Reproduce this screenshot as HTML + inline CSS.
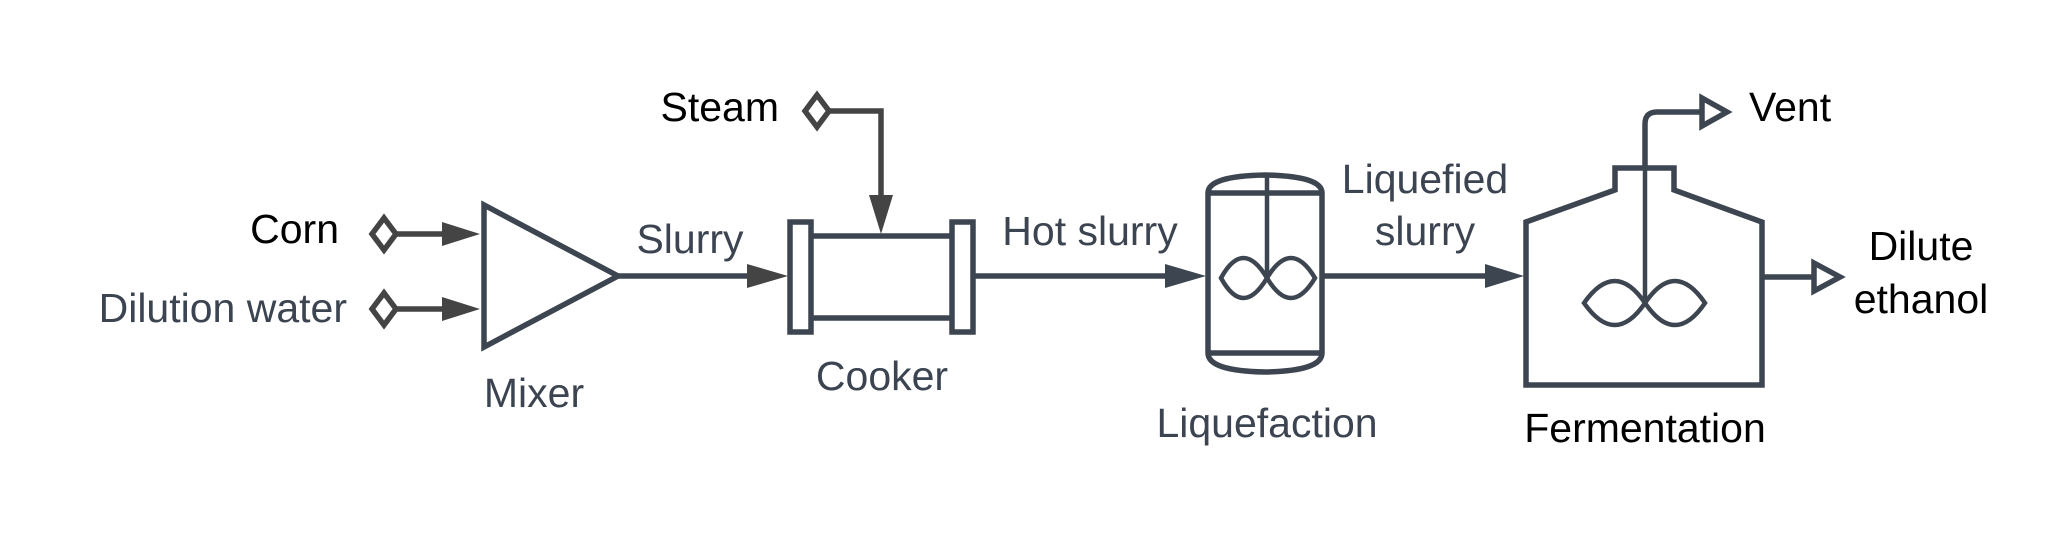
<!DOCTYPE html>
<html><head><meta charset="utf-8"><style>
html,body{margin:0;padding:0;background:#fff;}
svg{display:block;}
text{font-family:"Liberation Sans",Arial,sans-serif;font-size:41px;}
.g{fill:#3b4450;}
.k{fill:#000;}
</style></head><body>
<svg width="2070" height="546" viewBox="0 0 2070 546" xmlns="http://www.w3.org/2000/svg">
<g fill="none" stroke="#3d4550" stroke-width="5.5">
<!-- Corn stream -->
<path d="M372 234 L384 218 L396 234 L384 250 Z" stroke="#444"/>
<line x1="396" y1="234" x2="445" y2="234" stroke="#444"/>
<!-- Dilution -->
<path d="M372 309 L384 293 L396 309 L384 325 Z" stroke="#444"/>
<line x1="396" y1="309" x2="445" y2="309" stroke="#444"/>
<!-- Mixer -->
<path d="M484 205 L484 347 L618 276 Z"/>
<line x1="618" y1="276" x2="750" y2="276"/>
<!-- Cooker -->
<rect x="790" y="222" width="21" height="110"/>
<rect x="952" y="222" width="21" height="110"/>
<line x1="811" y1="236" x2="952" y2="236"/>
<line x1="811" y1="318" x2="952" y2="318"/>
<!-- Steam -->
<path d="M805 111 L817 95 L829 111 L817 127 Z" stroke="#444"/>
<path d="M829 111 L881 111 L881 200" stroke="#444"/>
<!-- Hot slurry -->
<line x1="973" y1="276" x2="1170" y2="276"/>
<!-- Liquefaction vessel -->
<path d="M1208 193 Q1208 176 1265 175 Q1322 176 1322 193 L1322 353 Q1322 371 1265 372 Q1208 371 1208 353 Z"/>
<line x1="1208" y1="193" x2="1322" y2="193"/>
<line x1="1208" y1="353" x2="1322" y2="353"/>
<line x1="1267" y1="175" x2="1267" y2="278" stroke-width="4.5"/>
<path d="M1267 278 Q1243 238 1221 278 Q1243 318 1267 278 Q1291 238 1315 278 Q1291 318 1267 278 Z" stroke-width="4.5"/>
<!-- Liquefied slurry -->
<line x1="1324" y1="276" x2="1490" y2="276"/>
<!-- Fermentation -->
<path d="M1526 222 L1615 190 L1615 168 L1674 168 L1674 190 L1762 222 L1762 385 L1526 385 Z"/>
<line x1="1645" y1="127" x2="1645" y2="303" stroke-width="4.5"/>
<path d="M1645 303 Q1615 259 1584 303 Q1615 347 1645 303 Q1675 259 1705 303 Q1675 347 1645 303 Z" stroke-width="4.5"/>
<path d="M1645 168 L1645 124 Q1645 112 1657 112 L1702 112"/>
<path d="M1702 98 L1727 112 L1702 126 Z"/>
<line x1="1764" y1="277" x2="1814" y2="277"/>
<path d="M1814 263 L1840 277 L1814 291 Z"/>
</g>
<g fill="#444">
<path d="M442 222 L480 234 L442 246 Z"/>
<path d="M442 297 L480 309 L442 321 Z"/>
<path d="M747 264 L788 276 L747 288 Z"/>
<path d="M869 195 L881 234 L893 195 Z"/>
<path d="M1165 264 L1206 276 L1165 288 Z" fill="#3d4550"/>
<path d="M1485 264 L1524 276 L1485 288 Z" fill="#3d4550"/>
</g>
<text class="k" x="339" y="243" text-anchor="end">Corn</text>
<text class="g" x="347" y="322" text-anchor="end">Dilution water</text>
<text class="g" x="534" y="407" text-anchor="middle">Mixer</text>
<text class="g" x="690" y="253" text-anchor="middle">Slurry</text>
<text class="k" x="779" y="121" text-anchor="end">Steam</text>
<text class="g" x="882" y="390" text-anchor="middle">Cooker</text>
<text class="g" x="1090" y="245" text-anchor="middle">Hot slurry</text>
<text class="g" x="1267" y="437" text-anchor="middle">Liquefaction</text>
<text class="g" x="1425" y="193" text-anchor="middle">Liquefied</text>
<text class="g" x="1425" y="245" text-anchor="middle">slurry</text>
<text class="k" x="1749" y="121">Vent</text>
<text class="k" x="1645" y="442" text-anchor="middle">Fermentation</text>
<text class="k" x="1921" y="260" text-anchor="middle">Dilute</text>
<text class="k" x="1921" y="313" text-anchor="middle">ethanol</text>
</svg>
</body></html>
